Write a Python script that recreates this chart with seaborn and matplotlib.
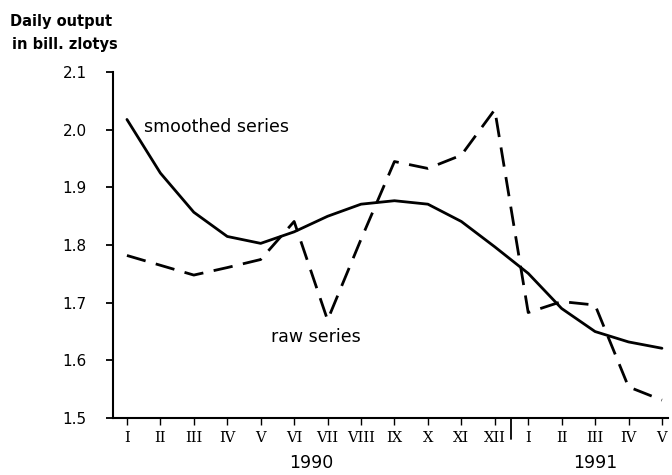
import matplotlib
matplotlib.use("Agg")
import matplotlib.pyplot as plt
import seaborn as sns
import pandas as pd
import numpy as np

months = ["I", "II", "III", "IV", "V", "VI", "VII", "VIII", "IX", "X", "XI", "XII",
          "I", "II", "III", "IV", "V"]
smoothed = [2.018, 1.925, 1.857, 1.815, 1.803, 1.823, 1.850, 1.871, 1.877, 1.871,
            1.841, 1.797, 1.751, 1.690, 1.650, 1.632, 1.621]
raw = [1.782, 1.765, 1.748, 1.761, 1.775, 1.841, 1.670, 1.810, 1.945, 1.933,
       1.956, 2.035, 1.683, 1.702, 1.696, 1.554, 1.531]
years = ["1990", "1991"]
year_centers = [5.5, 14]
yticks = [1.5, 1.6, 1.7, 1.8, 1.9, 2.0, 2.1]

sns.set_style("ticks")
plt.rcParams["font.family"] = ["DejaVu Sans"]
plt.rcParams["text.color"] = "black"
plt.rcParams["xtick.color"] = "black"
plt.rcParams["ytick.color"] = "black"

df = pd.DataFrame({"x": np.arange(len(months)), "smoothed": smoothed, "raw": raw})

fig = plt.figure(figsize=(6.72, 4.75), dpi=100)
ax = fig.add_axes([0.168, 0.12, 0.826, 0.728])

sns.lineplot(data=df, x="x", y="smoothed", ax=ax, color="black", lw=2.0)
sns.lineplot(data=df, x="x", y="raw", ax=ax, color="black", lw=2.0)
ax.lines[-1].set_dashes([7, 3.8])

ax.set_xlim(-0.42, 16.18)
ax.set_ylim(1.5, 2.1)
ax.set_yticks(yticks)
ax.set_yticklabels([f"{v:.1f}" for v in yticks], fontsize=11)
ax.set_xticks(range(len(months)))
ax.set_xticklabels(months, fontsize=10.5, family="DejaVu Serif")
ax.set_xlabel("")
ax.set_ylabel("")
for s in ["top", "right"]:
    ax.spines[s].set_visible(False)
for s in ["left", "bottom"]:
    ax.spines[s].set_color("black")
    ax.spines[s].set_linewidth(1.5)
ax.tick_params(axis="y", direction="out", length=5, width=1.3, pad=14, colors="black")
ax.tick_params(axis="x", direction="out", length=5, width=1.0, pad=4, colors="black")

# year separator
ax.plot([11.5, 11.5], [0, -0.06], transform=ax.get_xaxis_transform(),
        color="black", lw=1.3, clip_on=False)
for yr, c in zip(years, year_centers):
    ax.text(c, -0.13, yr, transform=ax.get_xaxis_transform(), ha="center",
            va="center", fontsize=12.5, color="black")

ax.text(0.5, 2.005, "smoothed series", fontsize=12.5, va="center", ha="left", color="black")
ax.text(4.3, 1.64, "raw series", fontsize=12.5, va="center", ha="left", color="black")

fig.text(0.015, 0.955, "Daily output", fontsize=10.5, fontweight="bold", va="center", color="black")
fig.text(0.018, 0.907, "in bill. zlotys", fontsize=10.5, fontweight="bold", va="center", color="black")

fig.savefig("out.png", dpi=100)
